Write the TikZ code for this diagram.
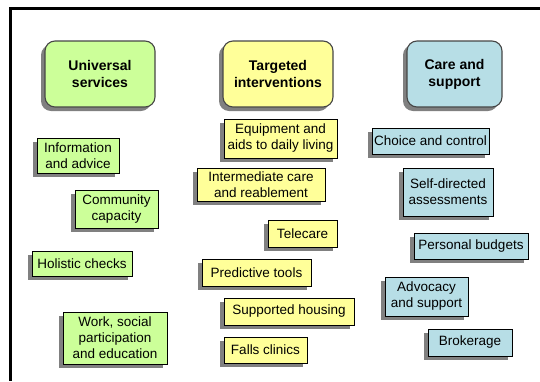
\documentclass[tikz,border=0pt]{standalone}
\usepackage{fontspec}
\setmainfont{Liberation Sans}
\usetikzlibrary{shadows}
\definecolor{usgreen}{RGB}{204,255,153}
\definecolor{tiyellow}{RGB}{255,255,153}
\definecolor{csblue}{RGB}{183,222,230}
\definecolor{hdrline}{RGB}{70,70,70}

\begin{document}
\begin{tikzpicture}[x=1pt,y=-1pt]
         \tikzset{shade/.style={drop shadow={shadow xshift=-4pt,shadow yshift=-4pt,fill=black!50,opacity=1}}}
         \tikzset{hdr/.style={shade,draw=hdrline,line width=1.1pt,rounded corners=10pt,inner sep=0pt,
            minimum height=66pt,align=center,font=\fontsize{14}{17}\selectfont\bfseries}}
         \tikzset{item/.style={shade,draw=black,line width=0.9pt,inner sep=0pt,align=center,
            font=\fontsize{13.5}{16}\selectfont}}
         \tikzset{usbox/.style={item,fill=usgreen}}
         \tikzset{tibox/.style={item,fill=tiyellow}}
         \tikzset{csbox/.style={item,fill=csblue}}
         \useasboundingbox (0,0) rectangle (540,381);
         \coordinate (frametr) at (540,8.5);
         \coordinate (frametl) at (10.5,8.5);
         \coordinate (framebl) at (10.5,381);
         \draw[line width=2.6pt] (frametr) -- (frametl) -- (framebl);
         % column heads
         \node[hdr,fill=usgreen,minimum width=110pt] (univ) at (100,74) {Universal\\services};
         \node[hdr,fill=tiyellow,minimum width=110pt] (targ) at (278,74) {Targeted\\interventions};
         \node[hdr,fill=csblue,minimum width=95pt] (care) at (454.5,74) {Care and\\support};
         % universal services
         \node[usbox,minimum width=82pt,minimum height=35pt] (info) at (78,155.5) {Information\\and advice};
         \node[usbox,minimum width=83pt,minimum height=38pt] (comm) at (116.5,209) {Community\\capacity};
         \node[usbox,minimum width=100pt,minimum height=25pt] (holi) at (82,263.5) {Holistic checks};
         \node[usbox,minimum width=104pt,minimum height=52pt] (work) at (115,338) {Work, social\\participation\\and education};
         % targeted interventions
         \node[tibox,minimum width=113pt,minimum height=39pt] (equip) at (280.5,138.5) {Equipment and\\aids to daily living};
         \node[tibox,minimum width=128pt,minimum height=33pt] (inter) at (261,184.5) {Intermediate care\\and reablement};
         \node[tibox,minimum width=69pt,minimum height=27pt] (tele) at (302.5,233.5) {Telecare};
         \node[tibox,minimum width=109pt,minimum height=27pt] (pred) at (256.5,272.5) {Predictive tools};
         \node[tibox,minimum width=130pt,minimum height=27pt] (supp) at (289,311.5) {Supported housing};
         \node[tibox,minimum width=83pt,minimum height=26pt] (falls) at (265.5,350) {Falls clinics};
         % care and support
         \node[csbox,minimum width=117pt,minimum height=26pt] (choice) at (430.5,141) {Choice and control};
         \node[csbox,minimum width=90pt,minimum height=48pt] (self) at (448,192) {Self-directed\\assessments};
         \node[csbox,minimum width=114pt,minimum height=26pt] (pers) at (471,246) {Personal budgets};
         \node[csbox,minimum width=83pt,minimum height=39pt] (advo) at (426.5,296.5) {Advocacy\\and support};
         \node[csbox,minimum width=84pt,minimum height=27pt] (brok) at (470,342.5) {Brokerage};
\end{tikzpicture}
\end{document}
